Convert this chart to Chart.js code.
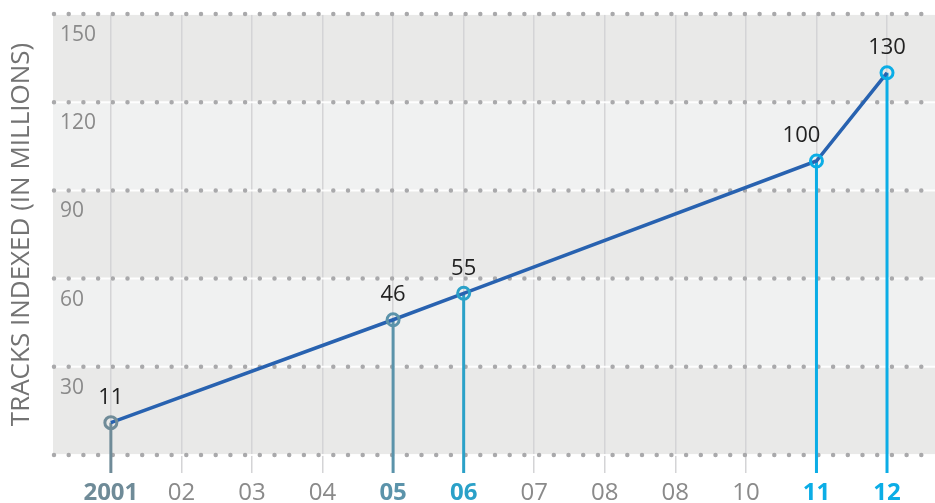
<!DOCTYPE html>
<html>
<head>
<meta charset="utf-8">
<script src="https://cdn.jsdelivr.net/npm/chart.js@4"></script>
<style>
  html, body { margin: 0; padding: 0; background: #fff; }
  #wrap { width: 935px; height: 503px; }
</style>
</head>
<body>
<div id="wrap"><canvas id="tracksChart" width="935" height="503"></canvas></div>
<script>
// years on the axis and the labels printed under them
const years = [2001, 2002, 2003, 2004, 2005, 2006, 2007, 2008, 2009, 2010, 2011, 2012];
const yearLabels = ['2001', '02', '03', '04', '05', '06', '07', '08', '08', '10', '11', '12'];

// tracks indexed, in millions
const milestoneYears = [2001, 2005, 2006, 2011, 2012];
const tracksIndexed = [11, 46, 55, 100, 130];

const yTicks = [30, 60, 90, 120, 150];

// styling
const FONT = "'Open Sans', 'Noto Sans', sans-serif";
const milestoneColors = ['#6f8b98', '#5b93aa', '#2ba1c8', '#0badE6', '#0badE6'];
const labelShift = [0, 0, 0, -15, 0];
const bandDark = '#e9e9e8';
const bandLight = '#f0f1f1';

function milestoneIndex(i) {
  return milestoneYears.indexOf(years[i]);
}

const backdrop = {
  id: 'backdrop',
  beforeDraw(chart) {
    const { ctx, chartArea: a, scales: { y } } = chart;
    ctx.save();
    const levels = [0].concat(yTicks);
    for (let i = levels.length - 1; i > 0; i--) {
      const top = y.getPixelForValue(levels[i]);
      const bottom = y.getPixelForValue(levels[i - 1]);
      ctx.fillStyle = (levels.length - 1 - i) % 2 === 0 ? bandDark : bandLight;
      ctx.fillRect(a.left, top, a.right - a.left, bottom - top);
    }
    ctx.restore();
  },
  beforeDatasetsDraw(chart) {
    const { ctx, chartArea: a, scales: { x, y } } = chart;
    ctx.save();
    // dotted rules
    [0].concat(yTicks).forEach(v => {
      const py = y.getPixelForValue(v);
      ctx.strokeStyle = 'rgba(255,255,255,0.9)';
      ctx.lineWidth = 2;
      ctx.setLineDash([]);
      ctx.beginPath();
      ctx.moveTo(a.left, py);
      ctx.lineTo(a.right, py);
      ctx.stroke();
      ctx.strokeStyle = '#a9a9ab';
      ctx.lineWidth = 4.5;
      ctx.lineCap = 'round';
      ctx.setLineDash([0, 14.7]);
      ctx.beginPath();
      ctx.moveTo(a.left + 1, py);
      ctx.lineTo(a.right, py);
      ctx.stroke();
    });
    // drop lines from each milestone
    ctx.setLineDash([]);
    ctx.lineCap = 'butt';
    ctx.lineWidth = 3;
    milestoneYears.forEach((yr, i) => {
      const px = x.getPixelForValue(yr);
      ctx.strokeStyle = milestoneColors[i];
      ctx.beginPath();
      ctx.moveTo(px, y.getPixelForValue(tracksIndexed[i]));
      ctx.lineTo(px, a.bottom + 18);
      ctx.stroke();
    });
    ctx.restore();
  },
  afterDatasetsDraw(chart) {
    const { ctx } = chart;
    const meta = chart.getDatasetMeta(0);
    ctx.save();
    ctx.font = '22px ' + FONT;
    ctx.fillStyle = '#222';
    ctx.textAlign = 'center';
    ctx.textBaseline = 'middle';
    meta.data.forEach((pt, i) => {
      ctx.fillText(String(tracksIndexed[i]), pt.x + labelShift[i], pt.y - 25);
    });
    ctx.restore();
  }
};

new Chart(document.getElementById('tracksChart'), {
  type: 'line',
  data: {
    datasets: [{
      data: milestoneYears.map((yr, i) => ({ x: yr, y: tracksIndexed[i] })),
      borderColor: '#2862b0',
      borderWidth: 3.5,
      tension: 0,
      pointRadius: 6,
      pointBorderWidth: 3,
      pointBackgroundColor: 'rgba(0,0,0,0)',
      pointBorderColor: milestoneColors
    }]
  },
  options: {
    responsive: false,
    animation: false,
    layout: { autoPadding: false, padding: { top: 14, right: 0, bottom: 0, left: 0 } },
    plugins: { legend: { display: false }, tooltip: { enabled: false } },
    scales: {
      x: {
        type: 'linear',
        min: 2000.18,
        max: 2012.68,
        afterBuildTicks: axis => { axis.ticks = years.map(v => ({ value: v })); },
        afterFit: axis => {
          axis.height = 48;
          axis.paddingLeft = 0;
          axis.paddingRight = 0;
        },
        border: { display: false },
        grid: { color: '#d4d4d6', lineWidth: 1.5, tickLength: 18, drawOnChartArea: true },
        ticks: {
          autoSkip: false,
          maxRotation: 0,
          padding: 8,
          callback: (v, i) => yearLabels[i],
          color: c => {
            const m = milestoneIndex(c.index);
            return m >= 0 ? milestoneColors[m] : '#8a8a8a';
          },
          font: c => ({
            family: FONT,
            size: 24,
            lineHeight: 1,
            weight: milestoneIndex(c.index) >= 0 ? 'bold' : 'normal'
          })
        }
      },
      y: {
        min: 0,
        max: 150,
        afterFit: axis => {
          axis.width = 53;
          axis.paddingTop = 0;
          axis.paddingBottom = 0;
        },
        border: { display: false },
        grid: { display: false },
        afterBuildTicks: axis => { axis.ticks = [0].concat(yTicks).map(v => ({ value: v })); },
        ticks: {
          mirror: true,
          padding: 7,
          labelOffset: 21,
          color: '#8a8a8a',
          font: { family: FONT, size: 21 },
          callback: v => (v === 0 ? '' : v)
        },
        title: {
          display: true,
          text: 'TRACKS INDEXED (IN MILLIONS)',
          color: '#737373',
          font: { family: FONT, size: 26, lineHeight: 1.2 },
          padding: { top: 6, bottom: 6 }
        }
      }
    }
  },
  plugins: [backdrop]
});
</script>
</body>
</html>
